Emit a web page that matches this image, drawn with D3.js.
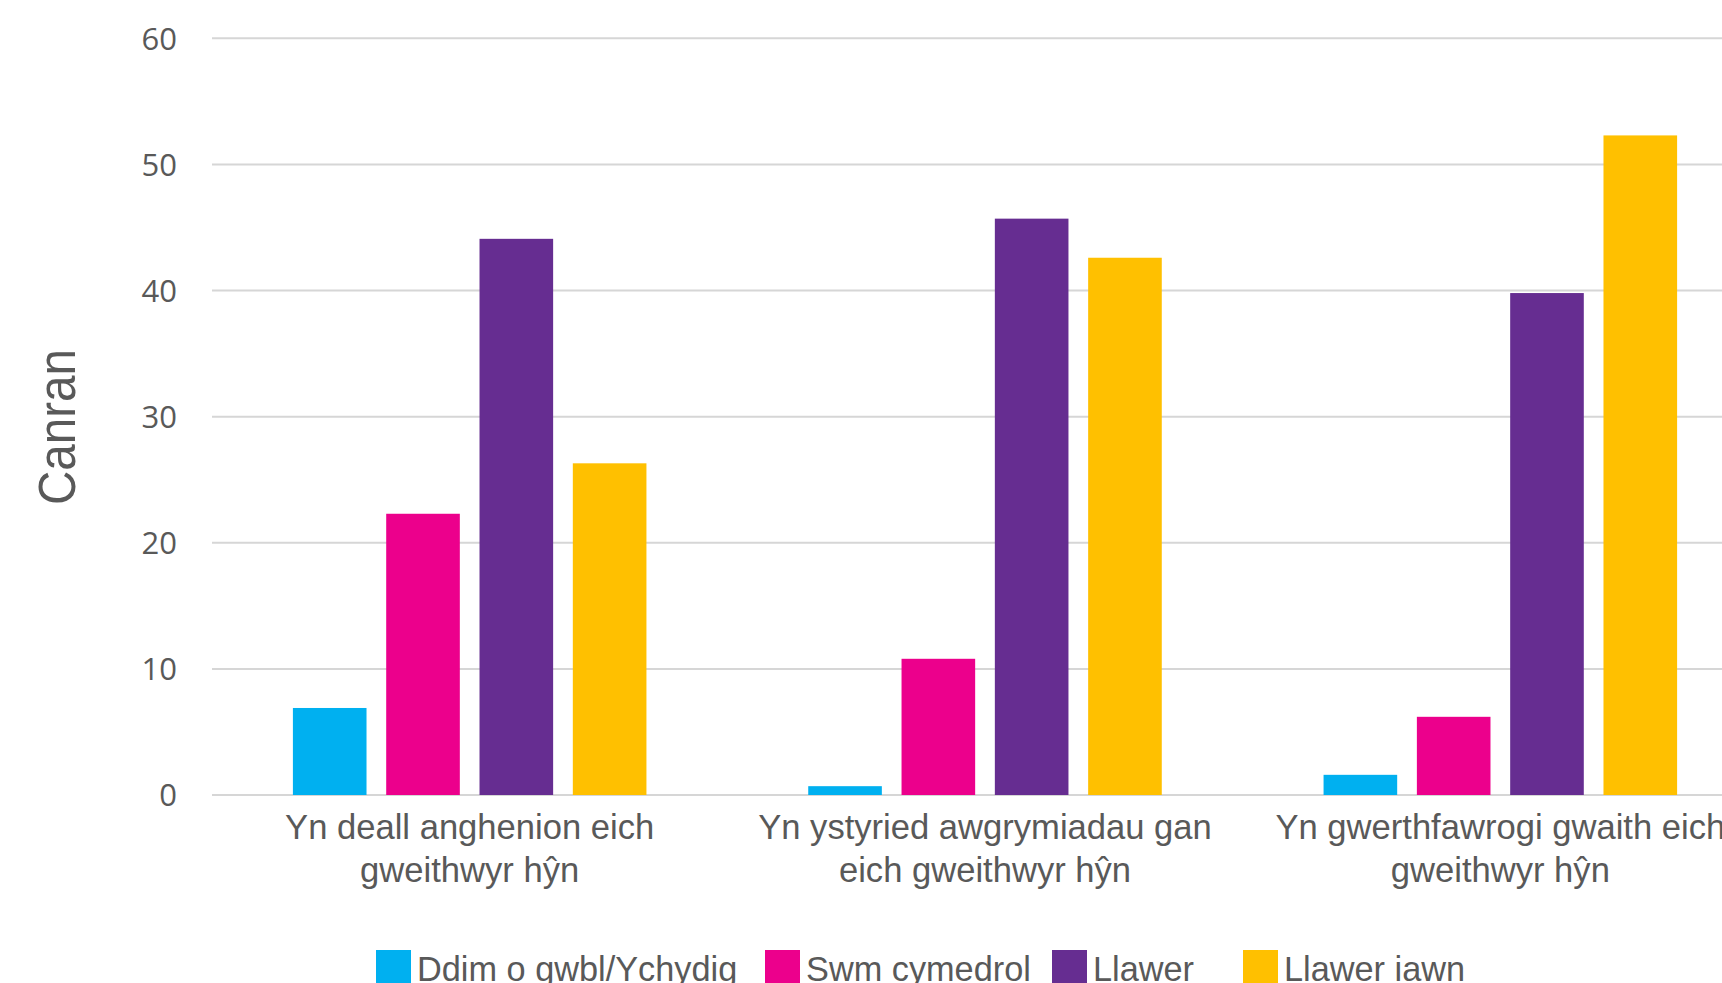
<!DOCTYPE html>
<html>
<head>
<meta charset="utf-8">
<script src="https://cdn.jsdelivr.net/npm/d3@7"></script>
<style>
  html, body { margin: 0; padding: 0; background: #fff; }
  svg { display: block; }
</style>
</head>
<body>
<svg id="chart" width="1722" height="983"></svg>
<script>
// Categories (two lines each) and the four response series, in percent
const categories = [
  ["Yn deall anghenion eich", "gweithwyr hŷn"],
  ["Yn ystyried awgrymiadau gan", "eich gweithwyr hŷn"],
  ["Yn gwerthfawrogi gwaith eich", "gweithwyr hŷn"]
];
const seriesNames = ["Ddim o gwbl/Ychydig", "Swm cymedrol", "Llawer", "Llawer iawn"];
const ddimValues = [6.9, 0.7, 1.6];
const swmValues = [22.3, 10.8, 6.2];
const llawerValues = [44.1, 45.7, 39.8];
const llawerIawnValues = [26.3, 42.6, 52.3];
const yTicks = [0, 10, 20, 30, 40, 50, 60];
const yTitle = "Canran";

const seriesValues = [ddimValues, swmValues, llawerValues, llawerIawnValues];
const colors = ["#00B0F0", "#EC008C", "#662D91", "#FFC000"];
const textColor = "#595959";

const svg = d3.select("#chart");
const W = 1722, H = 983;

// Plot area: the last category runs past the right edge
const plotLeft = 212, plotRight = 1758;
const y = d3.scaleLinear().domain([0, 60]).range([795, 38.3]);

const catKeys = categories.map((c, i) => i);
const x0 = d3.scaleBand().domain(catKeys).range([plotLeft, plotRight]).padding(0);
const x1 = d3.scaleBand().domain(seriesNames).range([0, x0.bandwidth()])
  .paddingInner(0.211).paddingOuter(0.867);

svg.append("defs").append("clipPath").attr("id", "clip")
  .append("rect").attr("x", 0).attr("y", 0).attr("width", W).attr("height", H);

const g = svg.append("g").attr("clip-path", "url(#clip)");

// Horizontal gridlines
g.append("g").selectAll("line").data(yTicks).join("line")
  .attr("x1", plotLeft).attr("x2", W)
  .attr("y1", d => y(d)).attr("y2", d => y(d))
  .attr("stroke", "#d6d6d6").attr("stroke-width", 2);

// Y axis tick labels
const yAxis = d3.axisLeft(y).tickValues(yTicks).tickSize(0).tickPadding(0);
const yg = g.append("g").attr("transform", "translate(177,0)").call(yAxis);
yg.select(".domain").remove();
yg.selectAll("text")
  .attr("font-family", "'Open Sans', sans-serif")
  .attr("font-size", 31)
  .attr("fill", textColor)
  .attr("dy", "0.35em");

// Bars
const groups = g.append("g").selectAll("g").data(catKeys).join("g")
  .attr("transform", d => `translate(${x0(d)},0)`);
groups.selectAll("rect")
  .data(ci => seriesNames.map((s, si) => ({ s, si, v: seriesValues[si][ci] })))
  .join("rect")
  .attr("x", d => x1(d.s))
  .attr("width", x1.bandwidth())
  .attr("y", d => y(d.v))
  .attr("height", d => y(0) - y(d.v))
  .attr("fill", d => colors[d.si]);

// Category labels under the axis
const catLabels = g.append("g").selectAll("text").data(catKeys).join("text")
  .attr("x", d => x0(d) + x0.bandwidth() / 2)
  .attr("y", 839)
  .attr("text-anchor", "middle")
  .attr("font-family", "'Liberation Sans', Arial, sans-serif")
  .attr("font-size", 34.6)
  .attr("fill", textColor);
catLabels.selectAll("tspan").data(d => categories[d]).join("tspan")
  .attr("x", function () { return d3.select(this.parentNode).attr("x"); })
  .attr("dy", (d, i) => i === 0 ? 0 : 43)
  .text(d => d);

// Y axis title
g.append("text")
  .attr("transform", "translate(75,427) rotate(-90)")
  .attr("text-anchor", "middle")
  .attr("font-family", "'Liberation Sans', Arial, sans-serif")
  .attr("font-size", 51)
  .attr("textLength", 156)
  .attr("lengthAdjust", "spacingAndGlyphs")
  .attr("fill", textColor)
  .text(yTitle);

// Legend along the bottom edge
const legendX = [376, 765, 1052, 1243];
const legend = g.append("g").selectAll("g").data(seriesNames).join("g")
  .attr("transform", (d, i) => `translate(${legendX[i]},950)`);
legend.append("rect")
  .attr("width", 35).attr("height", 40)
  .attr("fill", (d, i) => colors[i]);
legend.append("text")
  .attr("x", 41).attr("y", 31)
  .attr("font-family", "'Liberation Sans', Arial, sans-serif")
  .attr("font-size", 34.3)
  .attr("fill", textColor)
  .text(d => d);
</script>
</body>
</html>
